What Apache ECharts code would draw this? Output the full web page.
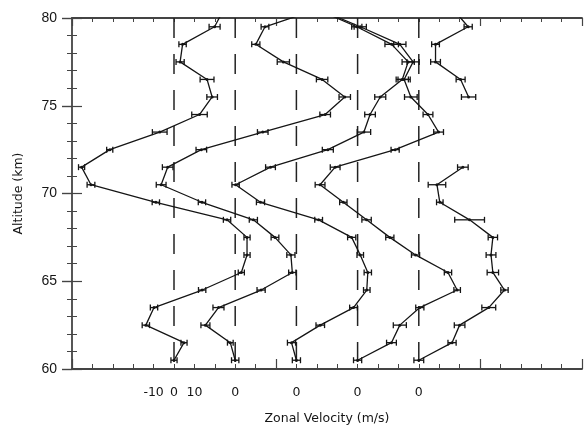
<!DOCTYPE html>
<html>
<head>
<meta charset="utf-8">
<script src="https://cdn.jsdelivr.net/npm/echarts@6/dist/echarts.min.js"></script>
<style>html,body{margin:0;padding:0;background:#fff}#c{width:585px;height:430px}</style>
</head>
<body>
<div id="c"></div>
<script>
// Altitudes (km) of the profile points (last one lies just above the plot top)
const altitudes = [60.5,61.5,62.5,63.5,64.5,65.5,66.5,67.5,68.5,69.5,70.5,71.5,72.5,73.5,74.5,75.5,76.5,77.5,78.5,79.5,80.5];
// Zero-line offsets of the five profiles on the common x scale (m/s)
const offsets = [50, 80, 110, 140, 170];
// Zonal velocity profiles (m/s, relative to each profile's zero line)
const p1 = [0,4.9,-13.8,-9.8,13.8,33.0,35.8,35.8,26.0,-8.9,-40.7,-45.3,-31.5,-7.0,12.5,18.7,16.2,3.0,4.2,19.9,24.4];
const p2 = [0,-2.4,-14.6,-8.2,12.7,28.0,27.3,19.5,8.9,-16.3,-36.3,-33.1,-16.6,13.5,44.1,53.7,42.6,23.6,10.1,14.6,40.3];
const p3 = [0,-2.4,11.7,28.0,34.5,35.0,31.3,27.1,10.9,-17.6,-29.8,-12.7,15.4,33.1,36.1,41.1,51.9,54.8,46.7,29.6,9.9];
const p4 = [0,16.6,20.7,30.5,48.8,44.3,28.4,15.8,4.4,-7.0,-18.4,-11.0,18.4,39.7,34.5,26.1,22.8,27.2,20.7,1.3,-19.2];
const p5 = [0,16.3,20.0,34.3,42.0,36.3,35.4,36.3,24.9,10.3,8.9,21.6,null,null,null,24.4,20.5,8.2,8.2,24.2,16.8];
// Error half-widths (m/s) for 60.5 ... 79.5 km
const e1 = [1.5,1.5,1.8,1.8,1.8,1.5,1.5,1.5,1.8,1.8,1.9,1.5,1.5,3.6,3.8,2.6,3.4,2.0,1.8,2.7];
const e2 = [1.8,1.4,2.2,2.7,2.0,1.8,2.0,1.9,2.0,1.8,2.4,2.6,2.6,2.6,2.6,2.8,2.8,3.0,2.0,1.9];
const e3 = [2.0,2.0,2.1,1.9,1.6,1.8,1.6,2.0,1.9,2.0,1.8,2.4,2.7,3.3,2.6,2.7,3.0,3.0,3.3,2.5];
const e4 = [2.0,2.4,3.2,2.0,1.6,1.8,2.0,2.0,2.3,1.8,2.4,2.4,2.0,2.4,2.4,3.1,3.0,3.0,3.0,3.0];
const e5 = [2.4,2.0,2.6,3.4,1.8,2.8,2.4,2.3,7.3,1.6,4.3,2.6,null,null,null,3.5,2.2,2.4,1.9,2.0];
// Tick labels on the x axis (position on common scale -> label)
const xLabelPos = [40, 50, 60, 80, 110, 140, 170];
const xLabelText = ['-10', '0', '10', '0', '0', '0', '0'];
const yTicks = [60, 65, 70, 75, 80];

const profiles = [p1, p2, p3, p4, p5];
const errors = [e1, e2, e3, e4, e5];
const ink = '#151515';
const axisCol = '#444';

const series = [];
offsets.forEach(function (off) {
  series.push({
    type: 'line', xAxisIndex: 0, yAxisIndex: 0, silent: true, symbol: 'none',
    data: [[off, 80], [off, 60]],
    lineStyle: { color: '#222', width: 1.5, type: [20, 16] }, z: 1
  });
});
profiles.forEach(function (p, i) {
  const off = offsets[i];
  series.push({
    type: 'line', xAxisIndex: 0, yAxisIndex: 0, silent: true,
    connectNulls: false, clip: true,
    symbol: 'circle', symbolSize: 3, showSymbol: true,
    itemStyle: { color: ink },
    data: altitudes.map(function (a, k) { return p[k] === null ? [null, a] : [off + p[k], a]; }),
    lineStyle: { color: ink, width: 1.3 }, z: 3
  });
  const err = errors[i];
  const ed = [];
  err.forEach(function (e, k) {
    if (e !== null && p[k] !== null) ed.push([off + p[k] - e, off + p[k] + e, altitudes[k]]);
  });
  series.push({
    type: 'custom', xAxisIndex: 0, yAxisIndex: 0, silent: true, clip: true,
    encode: { x: [0, 1], y: 2 },
    data: ed,
    renderItem: function (params, api) {
      const lo = api.coord([api.value(0), api.value(2)]);
      const hi = api.coord([api.value(1), api.value(2)]);
      const h = 3;
      const st = { stroke: ink, lineWidth: 1.3 };
      return { type: 'group', children: [
        { type: 'line', shape: { x1: lo[0], y1: lo[1], x2: hi[0], y2: hi[1] }, style: st },
        { type: 'line', shape: { x1: lo[0], y1: lo[1] - h, x2: lo[0], y2: lo[1] + h }, style: st },
        { type: 'line', shape: { x1: hi[0], y1: hi[1] - h, x2: hi[0], y2: hi[1] + h }, style: st }
      ]};
    }, z: 4
  });
});

const chart = echarts.init(document.getElementById('c'), null, { renderer: 'canvas' });
chart.setOption({
  animation: false,
  backgroundColor: '#fff',
  grid: { left: 72, right: 0, top: 18, bottom: 58, containLabel: false },
  xAxis: [
    { type: 'value', position: 'bottom', min: 0, max: 250, interval: 100,
      axisLine: { show: true, onZero: false, lineStyle: { color: axisCol, width: 1.8 } },
      axisTick: { show: true, inside: true, length: 10, lineStyle: { color: axisCol, width: 1.2 } },
      minorTick: { show: true, splitNumber: 10, length: 5, lineStyle: { color: axisCol, width: 1 } },
      axisLabel: { show: false }, splitLine: { show: false } },
    { type: 'value', position: 'top', min: 0, max: 250, interval: 100,
      axisLine: { show: true, onZero: false, lineStyle: { color: axisCol, width: 1.8 } },
      axisTick: { show: true, inside: true, length: 8, lineStyle: { color: axisCol, width: 1.2 } },
      minorTick: { show: true, splitNumber: 10, length: 4, lineStyle: { color: axisCol, width: 1 } },
      axisLabel: { show: false }, splitLine: { show: false } },
    { type: 'value', position: 'bottom', min: 0, max: 250, interval: 10,
      axisLine: { show: false }, axisTick: { show: false }, splitLine: { show: false },
      axisLabel: { show: true, interval: 0, margin: 17, color: ink,
        fontFamily: 'DejaVu Sans', fontSize: 12.5,
        formatter: function (v) { const i = xLabelPos.indexOf(Math.round(v)); return i >= 0 ? xLabelText[i] : ''; } },
      name: 'Zonal Velocity (m/s)', nameLocation: 'middle', nameGap: 43,
      nameTextStyle: { color: ink, fontFamily: 'DejaVu Sans', fontSize: 12.5 } }
  ],
  yAxis: [
    { type: 'value', position: 'left', min: 60, max: 80, interval: 5,
      axisLine: { show: true, onZero: false, lineStyle: { color: axisCol, width: 1.8 } },
      axisTick: { show: true, inside: true, length: 10, lineStyle: { color: axisCol, width: 1.2 } },
      minorTick: { show: true, splitNumber: 5, length: 5, lineStyle: { color: axisCol, width: 1 } },
      axisLabel: { show: true, margin: 15, color: ink, fontFamily: 'Liberation Sans', fontSize: 14,
        formatter: function (v) { return yTicks.indexOf(v) >= 0 ? String(v) : ''; } },
      splitLine: { show: false },
      name: 'Altitude (km)', nameLocation: 'middle', nameGap: 47, nameRotate: 90,
      nameTextStyle: { color: ink, fontFamily: 'DejaVu Sans', fontSize: 12.5 } },
    { type: 'value', position: 'right', min: 60, max: 80, interval: 5,
      axisLine: { show: false },
      axisTick: { show: true, inside: true, length: 10, lineStyle: { color: axisCol, width: 1.4 } },
      minorTick: { show: true, splitNumber: 5, length: 5, lineStyle: { color: axisCol, width: 1 } },
      axisLabel: { show: false }, splitLine: { show: false } }
  ],
  series: series
});
</script>
</body>
</html>
